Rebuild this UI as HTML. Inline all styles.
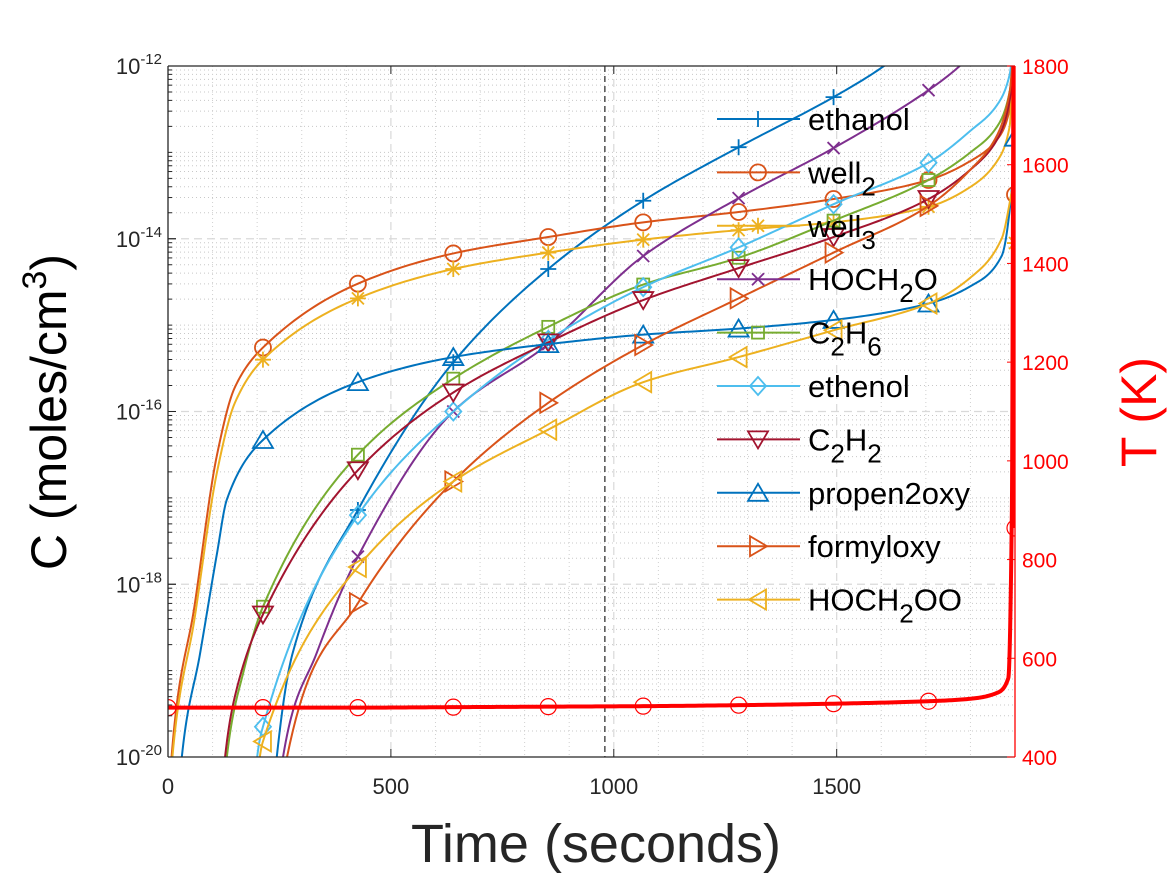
<!DOCTYPE html>
<html><head><meta charset="utf-8"><style>
html,body{margin:0;padding:0;background:#fff;}
svg{display:block;font-family:"Liberation Sans",Arial,sans-serif;}
</style></head><body>
<svg id="chart" width="1167" height="875" viewBox="0 0 1167 875" xmlns="http://www.w3.org/2000/svg">
<rect x="0" y="0" width="1167" height="875" fill="#fff"/>
<defs><clipPath id="plotclip"><rect x="168" y="66" width="847" height="691"/></clipPath></defs>
<g id="grid"></g>
<g id="series" clip-path="url(#plotclip)"></g>
<g id="axes"></g>
<g id="legend"></g>
<text x="596" y="862" font-size="54" text-anchor="middle" fill="#262626">Time (seconds)</text>
<text transform="translate(66,412) rotate(-90)" font-size="50" text-anchor="middle" fill="#000">C (moles/cm<tspan dy="-20" font-size="34">3</tspan><tspan dy="20">)</tspan></text>
<text transform="translate(1156,412) rotate(-90)" font-size="50" text-anchor="middle" fill="#ff0000">T (K)</text>
</svg>
<script>
// ---- data (time in s, log10 concentration) ----
const ethanolT=[230,244,280,426,640,853,1066,1280,1493,1606,1700];
const ethanolV=[-21,-20.0,-18.79,-17.14,-15.43,-14.35,-13.56,-12.94,-12.36,-12.0,-11.6];
const well2T=[0,5,61,110,150,213,426,640,853,1066,1280,1493,1706,1800,1860,1888,1897,1900];
const well2V=[-21,-20.2,-18.2,-16.5,-15.72,-15.26,-14.52,-14.17,-13.98,-13.81,-13.69,-13.54,-13.32,-13.1,-12.85,-12.5,-11.9,-13.49];
const well3T=[0,5,61,110,150,213,426,640,853,1066,1280,1493,1706,1800,1860,1888,1897,1900];
const well3V=[-21,-20.3,-18.35,-16.7,-15.9,-15.4,-14.69,-14.35,-14.16,-14.01,-13.9,-13.81,-13.63,-13.4,-13.1,-12.7,-12.0,-14.05];
const hoch2oT=[245,258,334,426,640,853,1066,1280,1493,1706,1776,1850];
const hoch2oV=[-21,-20,-18.79,-17.68,-16.0,-15.22,-14.2,-13.53,-12.95,-12.28,-12.0,-11.6];
const c2h6T=[120,132,170,213,426,640,853,1066,1280,1493,1706,1800,1860,1888,1897];
const c2h6V=[-21,-20,-19.0,-18.26,-16.5,-15.62,-15.02,-14.53,-14.22,-13.79,-13.32,-13.0,-12.7,-12.3,-11.8];
const ethenolT=[190,200,213,426,640,853,1066,1280,1493,1706,1800,1860,1888,1897];
const ethenolV=[-21,-20,-19.65,-17.2,-16.0,-15.17,-14.56,-14.1,-13.6,-13.12,-12.75,-12.45,-12.1,-11.7];
const c2h2T=[115,128,150,213,426,640,853,1066,1280,1493,1706,1800,1860,1888,1897];
const c2h2V=[-21,-20,-19.3,-18.35,-16.68,-15.78,-15.2,-14.71,-14.34,-13.98,-13.54,-13.2,-12.85,-12.4,-11.9];
const propenT=[20,31,72,110,132,213,426,640,853,1066,1280,1493,1706,1800,1870,1895,1900];
const propenV=[-21,-20,-18.8,-17.64,-17.02,-16.33,-15.66,-15.37,-15.22,-15.11,-15.04,-14.94,-14.75,-14.55,-14.2,-13.3,-12.83];
const formylT=[255,267,426,640,853,1066,1280,1493,1706,1800,1860,1888,1897];
const formylV=[-21,-20,-18.22,-16.81,-15.9,-15.23,-14.69,-14.16,-13.62,-13.2,-12.8,-12.3,-11.8];
const hoch2ooT=[195,206,213,426,640,853,1066,1280,1493,1706,1800,1870,1895];
const hoch2ooV=[-21,-20,-19.82,-17.8,-16.81,-16.21,-15.66,-15.37,-15.06,-14.75,-14.45,-14.0,-13.4];
const tempT=[0,213,426,640,853,1066,1280,1493,1706,1800,1860,1885,1893,1897,1900];
const tempV=[500,500,500,501,502,503,505,508,513,518,530,560,900,1800,864];
const markerTimes=[0,213,426,640,853,1066,1280,1493,1706,1900];
const xTicks=[0,500,1000,1500];
const yDecades=[-12,-14,-16,-18,-20];
const tTicks=[400,600,800,1000,1200,1400,1600,1800];

const NS="http://www.w3.org/2000/svg";
const X0=168,X1=1015,Y0=66,Y1=757;
const xS=t=>X0+t*(X1-X0)/1900;
const yS=v=>Y0+(-12-v)*(Y1-Y0)/8;
const yT=T=>Y1-(T-400)*(Y1-Y0)/1400;
function mk(tag,attrs,parent){const e=document.createElementNS(NS,tag);for(const k in attrs)e.setAttribute(k,attrs[k]);parent.appendChild(e);return e;}

function pathFor(ts,vs,ysc){
  const n=ts.length,d=[],m=new Array(n).fill(0);
  for(let i=0;i<n-1;i++)d.push((vs[i+1]-vs[i])/(ts[i+1]-ts[i]));
  m[0]=d[0];m[n-1]=d[n-2];
  for(let i=1;i<n-1;i++){ if(d[i-1]*d[i]<=0)m[i]=0; else { const w1=2*(ts[i+1]-ts[i])+(ts[i]-ts[i-1]),w2=(ts[i+1]-ts[i])+2*(ts[i]-ts[i-1]); m[i]=(w1+w2)/(w1/d[i-1]+w2/d[i]); } }
  let p="M"+xS(ts[0]).toFixed(2)+","+ysc(vs[0]).toFixed(2);
  for(let i=0;i<n-1;i++){const h=ts[i+1]-ts[i];
    for(let s=1;s<=24;s++){const u=s/24,h00=2*u*u*u-3*u*u+1,h10=u*u*u-2*u*u+u,h01=-2*u*u*u+3*u*u,h11=u*u*u-u*u;
      const v=h00*vs[i]+h10*h*m[i]+h01*vs[i+1]+h11*h*m[i+1];
      p+="L"+xS(ts[i]+u*h).toFixed(2)+","+ysc(v).toFixed(2);}}
  return p;
}
function marker(type,x,y,color,parent){
  const r=8,sw=1.8,a={fill:"none",stroke:color,"stroke-width":sw};
  let e;
  if(type==="o")e=mk("circle",Object.assign({cx:x,cy:y,r:r},a),parent);
  else if(type==="+")e=mk("path",Object.assign({d:`M${x-r},${y}H${x+r}M${x},${y-r}V${y+r}`},a),parent);
  else if(type==="*")e=mk("path",Object.assign({d:`M${x-r},${y}H${x+r}M${x},${y-r}V${y+r}M${x-6},${y-6}L${x+6},${y+6}M${x-6},${y+6}L${x+6},${y-6}`},a),parent);
  else if(type==="x")e=mk("path",Object.assign({d:`M${x-6},${y-6}L${x+6},${y+6}M${x-6},${y+6}L${x+6},${y-6}`},a),parent);
  else if(type==="s")e=mk("rect",Object.assign({x:x-6,y:y-6,width:12,height:12},a),parent);
  else if(type==="d")e=mk("path",Object.assign({d:`M${x},${y-9}L${x+8},${y}L${x},${y+9}L${x-8},${y}Z`},a),parent);
  else if(type==="v")e=mk("path",Object.assign({d:`M${x-10},${y-8}L${x+10},${y-8}L${x},${y+9}Z`},a),parent);
  else if(type==="^")e=mk("path",Object.assign({d:`M${x-10},${y+8}L${x+10},${y+8}L${x},${y-9}Z`},a),parent);
  else if(type===">")e=mk("path",Object.assign({d:`M${x-8},${y-10}L${x-8},${y+10}L${x+9},${y}Z`},a),parent);
  else if(type==="<")e=mk("path",Object.assign({d:`M${x+8},${y-10}L${x+8},${y+10}L${x-9},${y}Z`},a),parent);
  
  
  return e;
}

const g=document.getElementById('grid');
for(let dec=-20;dec<-12;dec++){for(let k=2;k<=9;k++){const y=yS(dec+Math.log10(k));mk("line",{x1:X0,x2:X1,y1:y,y2:y,stroke:"#c8c8c8","stroke-width":1,"stroke-dasharray":"1,3"},g);}
  if(dec%2!==0){const y=yS(dec);mk("line",{x1:X0,x2:X1,y1:y,y2:y,stroke:"#c8c8c8","stroke-width":1,"stroke-dasharray":"1,3"},g);}}
for(let t=100;t<1900;t+=100){if(t%500===0)continue;const x=xS(t);mk("line",{x1:x,x2:x,y1:Y0,y2:Y1,stroke:"#d0d0d0","stroke-width":1,"stroke-dasharray":"1,3"},g);}
[-14,-16,-18].forEach(d=>{const y=yS(d);mk("line",{x1:X0,x2:X1,y1:y,y2:y,stroke:"#d9d9d9","stroke-width":1.2,"stroke-dasharray":"8,5"},g);});
xTicks.slice(1).forEach(t=>{const x=xS(t);mk("line",{x1:x,x2:x,y1:Y0,y2:Y1,stroke:"#d9d9d9","stroke-width":1.2,"stroke-dasharray":"8,5"},g);});

const S=document.getElementById('series');
const seriesList=[
 {n:"ethanol",t:ethanolT,v:ethanolV,c:"#0072BD",m:"+"},
 {n:"well2",t:well2T,v:well2V,c:"#D95319",m:"o"},
 {n:"well3",t:well3T,v:well3V,c:"#EDB120",m:"*"},
 {n:"HOCH2O",t:hoch2oT,v:hoch2oV,c:"#7E2F8E",m:"x"},
 {n:"C2H6",t:c2h6T,v:c2h6V,c:"#77AC30",m:"s"},
 {n:"ethenol",t:ethenolT,v:ethenolV,c:"#4DBEEE",m:"d"},
 {n:"C2H2",t:c2h2T,v:c2h2V,c:"#A2142F",m:"v"},
 {n:"propen2oxy",t:propenT,v:propenV,c:"#0072BD",m:"^"},
 {n:"formyloxy",t:formylT,v:formylV,c:"#D95319",m:">"},
 {n:"HOCH2OO",t:hoch2ooT,v:hoch2ooV,c:"#EDB120",m:"<"}
];
const vl=mk("line",{x1:xS(980),x2:xS(980),y1:Y0,y2:Y1,stroke:"#333","stroke-width":1.3,"stroke-dasharray":"6,4"},S);


seriesList.forEach(s=>{
  const p=mk("path",{d:pathFor(s.t,s.v,yS),fill:"none",stroke:s.c,"stroke-width":2},S);
  
  
  s.t.forEach((t,i)=>{ if(markerTimes.includes(t)&&s.v[i]>=-20.2) marker(s.m,xS(t),yS(s.v[i]),s.c,S); });
});
const tp=mk("path",{d:pathFor(tempT,tempV,yT),fill:"none",stroke:"#ff0000","stroke-width":4},S);


tempT.forEach((t,i)=>{ if(markerTimes.includes(t)) marker("o",xS(t),yT(tempV[i]),"#ff0000",S).setAttribute('stroke-width','1.2'); });

const A=document.getElementById('axes');
mk("line",{x1:X0,x2:X1,y1:Y0,y2:Y0,stroke:"#262626","stroke-width":1.3},A);
mk("line",{x1:X0,x2:X1,y1:Y1,y2:Y1,stroke:"#262626","stroke-width":1.3},A);
mk("line",{x1:X0,x2:X0,y1:Y0,y2:Y1,stroke:"#262626","stroke-width":1.3},A);
mk("line",{x1:X1,x2:X1,y1:Y0,y2:Y1,stroke:"#ff0000","stroke-width":1.3},A);
for(let dec=-20;dec<-12;dec++){for(let k=1;k<=9;k++){const y=yS(dec+Math.log10(k));const L=(k===1&&dec%2===0)?8:4;mk("line",{x1:X0,x2:X0+L,y1:y,y2:y,stroke:"#262626","stroke-width":1},A);}}
yDecades.forEach(d=>{const y=yS(d);mk("line",{x1:X0,x2:X0+8,y1:y,y2:y,stroke:"#262626","stroke-width":1},A);
  const tx=mk("text",{x:X0-6,y:y+8,"font-size":22,"text-anchor":"end",fill:"#262626"},A);
  
  
  tx.innerHTML='10<tspan dy="-10" font-size="15">'+d+'</tspan>';});
xTicks.forEach(t=>{const x=xS(t);mk("line",{x1:x,x2:x,y1:Y1,y2:Y1-8,stroke:"#262626","stroke-width":1},A);mk("line",{x1:x,x2:x,y1:Y0,y2:Y0+8,stroke:"#262626","stroke-width":1},A);
  const tx=mk("text",{x:x,y:794,"font-size":22,"text-anchor":"middle",fill:"#262626"},A);
  
  
  tx.textContent=t;});
tTicks.forEach(T=>{const y=yT(T);mk("line",{x1:X1,x2:X1-8,y1:y,y2:y,stroke:"#ff0000","stroke-width":1},A);
  const tx=mk("text",{x:X1+7,y:y+8,"font-size":21,fill:"#ff0000"},A);
  
  
  tx.textContent=T;});

const L=document.getElementById('legend');
const sb='<tspan dy="12" font-size="26">',su='<tspan dy="-12">';
const legendLabels=['ethanol','well'+sb+'2</tspan>','well'+sb+'3</tspan>','HOCH'+sb+'2</tspan>'+su+'O</tspan>','C'+sb+'2</tspan>'+su+'H</tspan>'+sb+'6</tspan>','ethenol','C'+sb+'2</tspan>'+su+'H</tspan>'+sb+'2</tspan>','propen2oxy','formyloxy','HOCH'+sb+'2</tspan>'+su+'OO</tspan>'];
seriesList.forEach((s,i)=>{
  const y=119+53.4*i;
  const ent=mk("g",{},L);
  
  
  mk("line",{x1:717,x2:800,y1:y,y2:y,stroke:s.c,"stroke-width":2},ent);
  marker(s.m,758,y,s.c,ent);
  const tx=mk("text",{x:808,y:y+11,"font-size":31,fill:"#000"},ent);
  
  
  tx.innerHTML=legendLabels[i];
});
</script>
</body></html>
